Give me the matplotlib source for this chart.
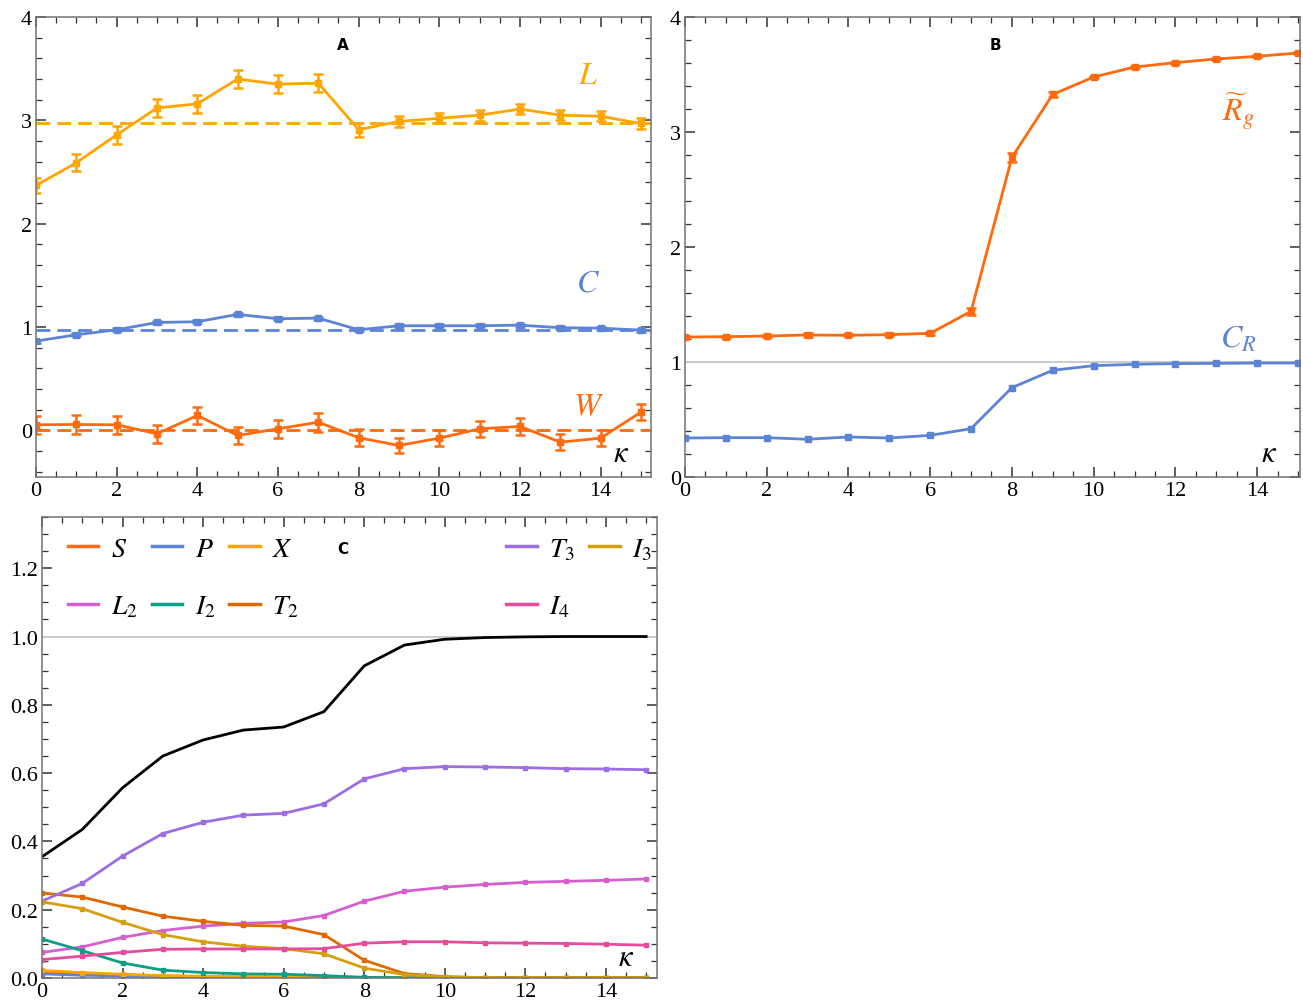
import numpy as np
import matplotlib.pyplot as plt
from matplotlib.ticker import MultipleLocator, FormatStrFormatter

plt.rcParams['font.family'] = 'serif'
plt.rcParams['font.serif'] = ['Liberation Serif', 'DejaVu Serif']
plt.rcParams['mathtext.fontset'] = 'stix'

kappa = np.arange(16)

# panel A
L_val = [2.37, 2.59, 2.86, 3.12, 3.16, 3.40, 3.35, 3.36, 2.91, 2.99, 3.02, 3.05, 3.11, 3.05, 3.04, 2.97]
L_err = [0.075, 0.084, 0.085, 0.085, 0.09, 0.09, 0.09, 0.09, 0.068, 0.056, 0.05, 0.053, 0.05, 0.05, 0.05, 0.053]
L_mean = 2.975
C_val = [0.865, 0.926, 0.974, 1.045, 1.052, 1.123, 1.081, 1.087, 0.974, 1.013, 1.013, 1.013, 1.019, 0.994, 0.990, 0.971]
C_err = [0.015] * 16
C_mean = 0.971
W_val = [0.055, 0.058, 0.055, -0.032, 0.145, -0.048, 0.016, 0.08, -0.07, -0.145, -0.074, 0.016, 0.039, -0.113, -0.074, 0.177]
W_err = [0.085, 0.09, 0.085, 0.085, 0.08, 0.085, 0.085, 0.09, 0.08, 0.07, 0.075, 0.08, 0.08, 0.08, 0.08, 0.08]
W_mean = 0.0

# panel B
Rg_val = [1.217, 1.220, 1.226, 1.235, 1.232, 1.238, 1.249, 1.441, 2.78, 3.327, 3.478, 3.565, 3.603, 3.635, 3.658, 3.687]
Rg_err = [0.01, 0.01, 0.01, 0.015, 0.01, 0.01, 0.01, 0.03, 0.04, 0.02, 0.012, 0.012, 0.01, 0.01, 0.01, 0.012]
CR_val = [0.339, 0.342, 0.342, 0.328, 0.348, 0.339, 0.362, 0.42, 0.777, 0.928, 0.968, 0.980, 0.986, 0.988, 0.991, 0.991]

# panel C
total = [0.355, 0.435, 0.557, 0.650, 0.697, 0.726, 0.735, 0.780, 0.914, 0.975, 0.992, 0.997, 0.999, 1.0, 1.0, 1.0]
frac_S = [0.018, 0.013, 0.009, 0.006, 0.004, 0.003, 0.002, 0.002, 0.001, 0.0, 0.0, 0.0, 0.0, 0.0, 0.0, 0.0]
frac_P = [0.012, 0.008, 0.006, 0.004, 0.003, 0.002, 0.002, 0.001, 0.001, 0.0, 0.0, 0.0, 0.0, 0.0, 0.0, 0.0]
frac_X = [0.022, 0.016, 0.011, 0.007, 0.005, 0.004, 0.003, 0.002, 0.001, 0.0, 0.0, 0.0, 0.0, 0.0, 0.0, 0.0]
frac_L2 = [0.075, 0.091, 0.119, 0.139, 0.152, 0.160, 0.164, 0.183, 0.225, 0.254, 0.266, 0.274, 0.280, 0.283, 0.286, 0.290]
frac_I2 = [0.114, 0.080, 0.044, 0.023, 0.016, 0.012, 0.011, 0.007, 0.002, 0.001, 0.0, 0.0, 0.0, 0.0, 0.0, 0.0]
frac_T2 = [0.249, 0.237, 0.208, 0.181, 0.166, 0.154, 0.152, 0.127, 0.052, 0.013, 0.004, 0.001, 0.001, 0.001, 0.001, 0.001]
frac_T3 = [0.225, 0.277, 0.357, 0.423, 0.456, 0.477, 0.482, 0.510, 0.583, 0.613, 0.619, 0.618, 0.616, 0.613, 0.612, 0.610]
frac_I3 = [0.223, 0.203, 0.163, 0.127, 0.106, 0.093, 0.086, 0.071, 0.029, 0.010, 0.003, 0.001, 0.001, 0.001, 0.001, 0.001]
frac_I4 = [0.054, 0.064, 0.075, 0.084, 0.085, 0.085, 0.085, 0.086, 0.102, 0.106, 0.106, 0.103, 0.102, 0.101, 0.099, 0.096]

c_orange = '#FF6A0D'
c_yellow = '#FFA500'
c_blue = '#5B84D6'

fig = plt.figure(figsize=(13.03, 10.03), dpi=100)
axA = fig.add_axes([36 / 1303, 525 / 1003, 615 / 1303, 460 / 1003])
axB = fig.add_axes([685 / 1303, 525 / 1003, 615 / 1303, 460 / 1003])
axC = fig.add_axes([42 / 1303, 24 / 1003, 615 / 1303, 461 / 1003])


def style(ax, xmax, ylim, ymaj, ymin, yfmt):
    ax.set_xlim(0, xmax)
    ax.set_ylim(*ylim)
    ax.xaxis.set_major_locator(MultipleLocator(2))
    ax.xaxis.set_minor_locator(MultipleLocator(0.5))
    ax.yaxis.set_major_locator(MultipleLocator(ymaj))
    ax.yaxis.set_minor_locator(MultipleLocator(ymin))
    ax.yaxis.set_major_formatter(FormatStrFormatter(yfmt))
    ax.tick_params(which='both', direction='in', top=True, right=True,
                   color='0.2', labelsize=16, pad=3)
    ax.tick_params(which='major', length=7, width=1.1)
    ax.tick_params(which='minor', length=4, width=0.9)
    for s in ax.spines.values():
        s.set_color('0.45')
        s.set_linewidth(1.1)


eb = dict(fmt='-s', markersize=4, capsize=3.5, elinewidth=1.8, capthick=1.8, lw=2)

# ---- A
style(axA, 15.25, (-0.45, 4), 1, 0.2, '%d')
axA.axhline(L_mean, color=c_yellow, ls=(0, (5, 2.5)), lw=2)
axA.axhline(C_mean, color=c_blue, ls=(0, (5, 2.5)), lw=2)
axA.axhline(W_mean, color=c_orange, ls=(0, (5, 2.5)), lw=2)
axA.errorbar(kappa, L_val, yerr=L_err, color=c_yellow, **eb)
axA.errorbar(kappa, C_val, yerr=C_err, color=c_blue, **eb)
axA.errorbar(kappa, W_val, yerr=W_err, color=c_orange, **eb)
axA.text(13.7, 3.43, r'$L$', color=c_yellow, fontsize=23, ha='center', va='center')
axA.text(13.7, 1.43, r'$C$', color=c_blue, fontsize=23, ha='center', va='center')
axA.text(13.7, 0.23, r'$W$', color=c_orange, fontsize=23, ha='center', va='center')
axA.text(14.5, -0.22, r'$\kappa$', fontsize=22, ha='center', va='center')
axA.text(7.6, 3.73, 'A', fontsize=11, fontweight='bold', family='DejaVu Sans',
         ha='center', va='center')

# ---- B
style(axB, 15.05, (0, 4), 1, 0.2, '%d')
axB.axhline(1, color='0.8', lw=1.5)
axB.errorbar(kappa, Rg_val, yerr=Rg_err, color=c_orange, **eb)
axB.plot(kappa, CR_val, '-s', color=c_blue, lw=2, markersize=4)
axB.text(13.55, 3.19, r'$\widetilde{R}_g$', color=c_orange, fontsize=23, ha='center', va='center')
axB.text(13.55, 1.2, r'$C_R$', color=c_blue, fontsize=23, ha='center', va='center')
axB.text(14.3, 0.2, r'$\kappa$', fontsize=22, ha='center', va='center')
axB.text(7.6, 3.76, 'B', fontsize=11, fontweight='bold', family='DejaVu Sans',
         ha='center', va='center')

# ---- C
style(axC, 15.27, (0, 1.35), 0.2, 0.05, '%.1f')
axC.axhline(1, color='0.8', lw=1.5)
series = [
    (frac_S, r'$S$', '#FF6A1A'),
    (frac_P, r'$P$', c_blue),
    (frac_X, r'$X$', c_yellow),
    (frac_L2, r'$L_2$', '#D65FCF'),
    (frac_I2, r'$I_2$', '#0C9E86'),
    (frac_T2, r'$T_2$', '#E06800'),
    (frac_T3, r'$T_3$', '#9C6FE0'),
    (frac_I3, r'$I_3$', '#D4A00F'),
    (frac_I4, r'$I_4$', '#E44D9B'),
]
handles = {}
for vals, lab, col in series:
    h, = axC.plot(kappa, vals, '-s', color=col, lw=2, markersize=3.5, label=lab)
    handles[lab] = h
axC.plot(kappa, total, '-', color='black', lw=2)
axC.text(14.5, 0.06, r'$\kappa$', fontsize=22, ha='center', va='center')
axC.text(7.47, 1.258, 'C', fontsize=11, fontweight='bold', family='DejaVu Sans',
         ha='center', va='center')

leg_kw = dict(frameon=False, fontsize=20, handlelength=1.1, handletextpad=0.45,
              columnspacing=0.5, labelspacing=1.15, borderpad=0, borderaxespad=0)
left_order = [r'$S$', r'$L_2$', r'$P$', r'$I_2$', r'$X$', r'$T_2$']
leg1 = axC.legend([handles[k] for k in left_order], left_order, ncol=3,
                  loc='upper left', bbox_to_anchor=(0.042, 0.958), **leg_kw)
axC.add_artist(leg1)
right_order = [r'$T_3$', r'$I_4$', r'$I_3$']
axC.legend([handles[k] for k in right_order], right_order, ncol=2,
           loc='upper left', bbox_to_anchor=(0.755, 0.958), **leg_kw)
for lg in axC.get_legend(), leg1:
    for line in lg.get_lines():
        line.set_marker('')
        line.set_linewidth(2.5)

fig.savefig('out.png', dpi=100)
